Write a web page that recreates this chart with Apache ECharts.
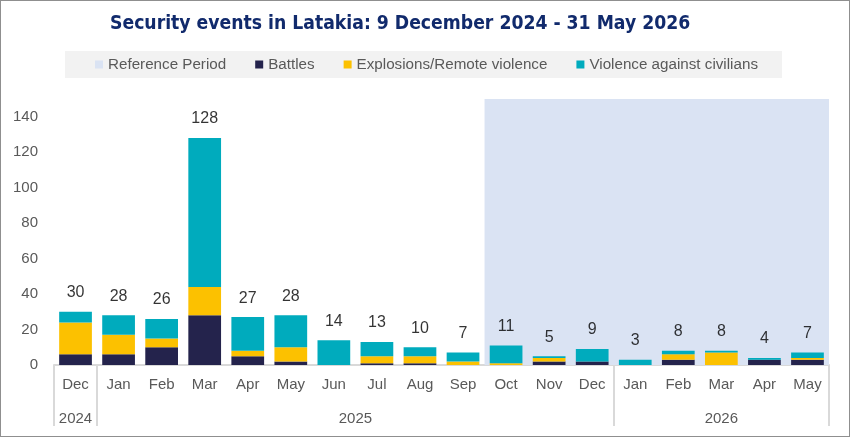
<!DOCTYPE html>
<html>
<head>
<meta charset="utf-8">
<script src="https://cdn.jsdelivr.net/npm/echarts@6/dist/echarts.min.js"></script>
<style>
    html, body { margin: 0; padding: 0; background: #fff; }
    #chart { width: 850px; height: 437px; box-sizing: border-box; border: 1px solid #8f8f8f; }
</style>
</head>
<body>
<div id="chart"></div>
<script>
// monthly counts, Dec 2024 - May 2026
var months = ['Dec', 'Jan', 'Feb', 'Mar', 'Apr', 'May', 'Jun', 'Jul', 'Aug', 'Sep', 'Oct', 'Nov', 'Dec', 'Jan', 'Feb', 'Mar', 'Apr', 'May'];
var battles = [6, 6, 10, 28, 5, 2, 0, 1, 1, 0, 0, 2, 2, 0, 3, 0, 3, 3];
var explosions = [18, 11, 5, 16, 3, 8, 0, 4, 4, 2, 1, 2, 0, 0, 3, 7, 0, 1];
var civilians = [6, 11, 11, 84, 19, 18, 14, 8, 5, 5, 10, 1, 7, 3, 2, 1, 1, 3];

// year groups under the month labels
var years = ['2024', '2025', '2026'];
var monthsPerYear = [1, 12, 5];

// reference period: Oct 2025 to the end
var referenceStart = 10;

var labelFont = 'Liberation Sans';
var greyText = '#595959';
var sepColor = '#d9d9d9';
var refColor = '#dae3f3';

var totals = [];
for (var i = 0; i < months.length; i++) {
    totals.push(battles[i] + explosions[i] + civilians[i]);
}

var yMax = 150;

// boundaries and centres of the year groups on the 0..n value axis
var yearBounds = [0];
var yearCentres = [];
var acc = 0;
for (var j = 0; j < years.length; j++) {
    yearCentres.push(acc + monthsPerYear[j] / 2);
    acc += monthsPerYear[j];
    yearBounds.push(acc);
}

var chart = echarts.init(document.getElementById('chart'));

var option = {
    animation: false,
    title: {
        text: 'Security events in Latakia: 9 December 2024 - 31 May 2026',
        left: 104,
        top: 9,
        textStyle: {
            fontFamily: 'DejaVu Sans Condensed',
            fontWeight: 'bold',
            fontSize: 19.2,
            color: '#112a6c'
        }
    },
    legend: {
        left: 64,
        top: 50,
        padding: [6, 24, 6, 30],
        backgroundColor: '#f2f2f2',
        itemWidth: 8,
        itemHeight: 8,
        itemGap: 29,
        icon: 'rect',
        textStyle: {
            fontFamily: labelFont,
            fontSize: 15.2,
            color: greyText
        },
        data: ['Reference Period', 'Battles', 'Explosions/Remote violence', 'Violence against civilians']
    },
    grid: {
        left: 53,
        right: 20,
        top: 98,
        bottom: 71
    },
    xAxis: [{
        type: 'category',
        data: months,
        position: 'bottom',
        axisLine: { lineStyle: { color: sepColor, width: 2 } },
        axisTick: { interval: 0, length: 30, lineStyle: { color: sepColor, width: 2 } },
        axisLabel: {
            interval: 0,
            margin: 12,
            fontFamily: labelFont,
            fontSize: 15,
            color: greyText
        }
    }, {
        type: 'value',
        position: 'bottom',
        min: 0,
        max: months.length,
        splitLine: { show: false },
        axisLine: { show: false },
        axisTick: {
            show: true,
            customValues: yearBounds,
            length: 61,
            lineStyle: { color: sepColor, width: 2 }
        },
        axisLabel: {
            customValues: yearCentres,
            margin: 46,
            fontFamily: labelFont,
            fontSize: 15,
            color: greyText,
            formatter: function (v) {
                return years[yearCentres.indexOf(v)];
            }
        }
    }],
    yAxis: {
        type: 'value',
        min: 0,
        max: yMax,
        interval: 20,
        splitLine: { show: false },
        axisLine: { show: false },
        axisTick: { show: false },
        axisLabel: {
            showMaxLabel: false,
            margin: 16,
            fontFamily: labelFont,
            fontSize: 15,
            color: greyText
        }
    },
    series: [{
        name: 'Reference Period',
        type: 'line',
        xAxisIndex: 1,
        data: [],
        itemStyle: { color: refColor },
        markArea: {
            silent: true,
            itemStyle: { color: refColor },
            data: [[{ xAxis: referenceStart, yAxis: 0 }, { xAxis: months.length, yAxis: yMax }]]
        },
        z: 1
    }, {
        name: 'Battles',
        type: 'bar',
        stack: 'events',
        barWidth: '76%',
        itemStyle: { color: '#24234c' },
        data: battles,
        z: 3
    }, {
        name: 'Explosions/Remote violence',
        type: 'bar',
        stack: 'events',
        itemStyle: { color: '#fcc100' },
        data: explosions,
        z: 3
    }, {
        name: 'Violence against civilians',
        type: 'bar',
        stack: 'events',
        itemStyle: { color: '#00abbd' },
        data: civilians,
        z: 3
    }, {
        name: 'Total',
        type: 'scatter',
        symbolSize: 0,
        silent: true,
        data: totals,
        label: {
            show: true,
            position: 'top',
            distance: 11,
            fontFamily: labelFont,
            fontSize: 16,
            color: '#000'
        },
        z: 4
    }]
};

chart.setOption(option);
</script>
</body>
</html>
